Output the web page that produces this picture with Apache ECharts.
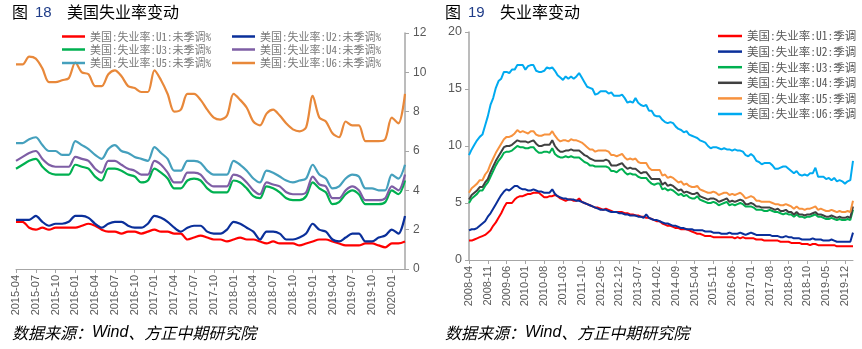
<!DOCTYPE html>
<html><head><meta charset="utf-8">
<script src="https://cdn.jsdelivr.net/npm/echarts@6/dist/echarts.min.js"></script>
<style>html,body{margin:0;padding:0;background:#fff}#c{width:862px;height:349px}</style>
</head><body><div id="c"></div>
<script>
// ---------- Left chart (Fig 18): NSA, 2015-04 .. 2020-03 ----------
const leftNames = ['美国:失业率:U1:未季调%','美国:失业率:U2:未季调%','美国:失业率:U3:未季调%','美国:失业率:U4:未季调%','美国:失业率:U5:未季调%','美国:失业率:U6:未季调%'];
const leftU1 = [2.4,2.4,2.1,2.0,2.1,2.0,2.1,2.1,2.1, 2.1,2.2,2.3,2.2,2.0,1.9,1.9,1.8,1.9,1.9,1.8,1.9, 2.0,1.9,1.9,1.8,1.8,1.5,1.6,1.7,1.6,1.5,1.5,1.4, 1.5,1.6,1.5,1.5,1.4,1.3,1.4,1.3,1.3,1.3,1.2,1.3, 1.4,1.5,1.5,1.4,1.3,1.2,1.2,1.2,1.3,1.3,1.2,1.1, 1.3,1.3,1.4];
const leftU2 = [2.5,2.5,2.5,2.7,2.4,2.2,2.3,2.3,2.4, 2.7,2.7,2.6,2.3,2.1,2.3,2.4,2.4,2.2,2.1,2.1,2.3, 2.7,2.6,2.4,2.1,1.9,2.1,2.2,2.2,1.9,1.8,1.8,2.0, 2.4,2.3,2.1,1.9,1.5,1.9,1.9,1.8,1.5,1.5,1.6,1.8, 2.3,2.0,1.9,1.5,1.4,1.6,1.8,1.8,1.4,1.4,1.6,1.7, 2.0,1.8,2.7];
const leftU3 = [5.1,5.3,5.5,5.6,5.2,4.9,4.8,4.8,4.8, 5.3,5.2,5.1,4.7,4.5,5.1,5.1,5.0,4.8,4.7,4.4,4.5, 5.1,4.9,4.6,4.1,4.1,4.5,4.6,4.5,4.1,3.9,3.9,3.9, 4.5,4.4,4.1,3.7,3.6,4.2,4.1,3.9,3.6,3.5,3.5,3.7, 4.4,4.1,3.9,3.3,3.4,3.8,4.0,3.8,3.3,3.3,3.3,3.4, 4.0,3.8,4.5];
const leftU4 = [5.5,5.7,5.9,6.0,5.6,5.3,5.2,5.2,5.2, 5.7,5.6,5.5,5.1,4.9,5.5,5.5,5.3,5.1,5.0,4.8,4.8, 5.5,5.3,4.9,4.4,4.4,4.9,4.9,4.8,4.4,4.2,4.2,4.2, 4.8,4.7,4.4,4.0,3.8,4.4,4.3,4.2,3.9,3.8,3.8,3.9, 4.7,4.3,4.2,3.6,3.6,4.0,4.2,4.0,3.5,3.5,3.5,3.6, 4.2,4.0,4.8];
const leftU5 = [6.4,6.4,6.6,6.7,6.3,6.0,6.0,5.8,5.8, 6.5,6.3,6.1,5.8,5.6,6.1,6.3,6.0,5.9,5.7,5.6,5.5, 6.2,5.9,5.6,5.0,5.0,5.5,5.5,5.4,5.0,4.8,4.8,4.8, 5.5,5.3,5.0,4.6,4.4,5.0,4.9,4.7,4.5,4.4,4.5,4.6, 5.3,4.8,4.6,4.1,4.2,4.6,4.8,4.7,4.1,4.1,4.0,4.0, 4.8,4.6,5.3];
const leftU6 = [10.4,10.4,10.8,10.7,10.2,9.5,9.5,9.6,9.7, 10.5,10.0,9.9,9.3,9.3,9.9,10.1,9.8,9.3,9.2,9.0,9.0, 10.1,9.6,8.9,8.0,8.1,8.9,8.9,8.6,8.1,7.7,7.6,7.8, 8.9,8.6,8.2,7.5,7.3,7.9,8.1,7.8,7.4,7.1,7.0,7.2, 8.8,7.7,7.5,6.9,6.7,7.5,7.3,7.3,6.5,6.5,6.5,6.6, 7.7,7.4,8.9];
const leftColors = ['#ff0000','#0a2f9a','#00b050','#7e5ea5','#45a0bd','#e8883a'];

// ---------- Right chart (Fig 19): SA, 2008-04 .. 2020-03 ----------
const rightNames = ['美国:失业率:U1:季调','美国:失业率:U2:季调','美国:失业率:U3:季调','美国:失业率:U4:季调','美国:失业率:U5:季调','美国:失业率:U6:季调'];
const rightU1 = [1.7,1.7,1.8,1.9,2.0,2.1,2.2,2.4,2.6,
 3.0,3.3,3.7,4.1,4.6,5.0,5.0,5.0,5.3,5.5,5.6,5.6,
 5.7,5.8,5.8,5.9,5.9,5.9,5.7,5.5,5.5,5.6,5.6,5.7,
 5.6,5.4,5.3,5.2,5.3,5.3,5.2,5.2,5.4,5.1,5.0,4.9,
 4.8,4.7,4.6,4.6,4.5,4.4,4.5,4.4,4.3,4.2,4.2,4.2,
 4.2,4.1,4.1,4.0,4.0,3.9,3.9,3.8,3.8,3.7,3.7,3.6,
 3.5,3.4,3.4,3.2,3.1,3.0,3.0,2.9,2.8,2.8,2.7,2.7,
 2.7,2.6,2.5,2.4,2.3,2.3,2.2,2.1,2.1,2.1,2.0,2.0,
 2.0,2.0,2.0,2.0,2.0,2.0,1.9,2.0,1.9,2.0,1.9,1.9,
 1.9,1.9,1.8,1.8,1.8,1.7,1.7,1.7,1.7,1.7,1.7,1.6,
 1.6,1.6,1.6,1.5,1.5,1.5,1.5,1.4,1.4,1.4,1.3,1.4,
 1.4,1.3,1.3,1.3,1.3,1.3,1.3,1.3,1.2,1.2,1.2,1.2,
 1.2,1.2,1.2];
const rightU2 = [2.6,2.7,2.7,2.8,3.0,3.2,3.4,3.8,4.1,
 4.5,4.9,5.3,5.7,6.0,6.2,6.1,6.3,6.5,6.5,6.3,6.2,
 6.2,6.1,6.1,6.2,6.1,6.0,6.0,5.9,5.9,5.9,6.2,5.8,
 5.6,5.5,5.4,5.4,5.3,5.3,5.3,5.2,5.2,5.1,5.0,4.9,
 4.8,4.7,4.6,4.5,4.4,4.4,4.4,4.3,4.2,4.2,4.2,4.1,
 4.1,4.0,4.0,3.9,3.9,3.9,3.8,3.8,3.7,4.0,3.7,3.6,
 3.5,3.5,3.4,3.3,3.2,3.2,3.1,3.0,3.0,2.9,2.8,2.8,
 2.7,2.7,2.7,2.6,2.6,2.6,2.6,2.5,2.5,2.5,2.4,2.4,
 2.4,2.3,2.3,2.3,2.4,2.3,2.3,2.3,2.4,2.3,2.2,2.3,
 2.4,2.3,2.2,2.2,2.2,2.2,2.2,2.2,2.1,2.1,2.1,2.0,
 2.0,2.1,2.0,2.0,1.9,1.9,1.9,1.8,1.8,1.8,1.8,1.9,
 1.8,1.8,1.8,1.7,1.7,1.7,1.8,1.7,1.6,1.6,1.6,1.6,
 1.6,1.6,2.4];
const rightU3 = [5.0,5.4,5.6,5.8,6.1,6.1,6.5,6.8,7.3,
 7.8,8.3,8.7,9.0,9.4,9.5,9.5,9.6,9.8,10.0,9.9,9.9,
 9.8,9.8,9.9,9.9,9.6,9.4,9.4,9.5,9.5,9.4,9.8,9.3,
 9.1,9.0,9.0,9.1,9.0,9.1,9.0,9.0,9.0,8.8,8.6,8.5,
 8.3,8.3,8.2,8.2,8.2,8.2,8.2,8.1,7.8,7.8,7.7,7.9,
 8.0,7.7,7.5,7.6,7.5,7.5,7.3,7.2,7.2,7.2,6.9,6.7,
 6.6,6.7,6.7,6.2,6.3,6.1,6.2,6.1,5.9,5.7,5.8,5.6,
 5.7,5.5,5.4,5.4,5.6,5.3,5.2,5.1,5.0,5.0,5.1,5.0,
 4.8,4.9,5.0,5.1,4.8,4.9,4.8,4.9,5.0,4.9,4.7,4.7,
 4.7,4.6,4.4,4.4,4.4,4.3,4.3,4.4,4.3,4.2,4.2,4.1,
 4.0,4.1,4.0,4.0,3.8,4.0,3.8,3.8,3.7,3.8,3.8,3.9,
 4.0,3.8,3.8,3.7,3.6,3.6,3.7,3.6,3.5,3.6,3.5,3.5,
 3.6,3.5,4.4];
const rightU4 = [5.3,5.7,5.9,6.1,6.4,6.4,6.8,7.1,7.7,
 8.2,8.7,9.1,9.5,9.9,10.0,10.0,10.1,10.3,10.5,10.4,10.4,
 10.4,10.3,10.4,10.5,10.2,10.0,10.0,10.1,10.1,10.1,10.5,10.0,
 9.7,9.5,9.5,9.6,9.6,9.7,9.6,9.6,9.6,9.4,9.2,9.1,
 8.9,8.8,8.7,8.7,8.7,8.7,8.8,8.7,8.3,8.3,8.3,8.4,
 8.5,8.2,8.0,8.1,8.0,8.0,7.8,7.6,7.7,7.7,7.4,7.1,
 7.1,7.1,7.1,6.6,6.8,6.5,6.6,6.5,6.3,6.1,6.2,5.9,
 6.0,5.9,5.8,5.8,5.9,5.6,5.5,5.4,5.3,5.4,5.4,5.3,
 5.1,5.2,5.3,5.4,5.1,5.2,5.1,5.2,5.3,5.2,4.9,4.9,
 5.0,4.9,4.7,4.7,4.6,4.6,4.6,4.6,4.5,4.4,4.5,4.3,
 4.3,4.4,4.2,4.2,4.0,4.2,4.0,4.0,3.9,4.0,4.0,4.1,
 4.2,4.0,4.0,3.9,3.8,3.8,3.9,3.8,3.7,3.8,3.7,3.7,
 3.8,3.7,4.7];
const rightU5 = [5.9,6.3,6.5,6.7,7.0,7.0,7.5,7.8,8.4,
 8.9,9.4,9.8,10.2,10.6,10.8,10.8,10.9,11.1,11.4,11.2,11.3,
 11.2,11.1,11.3,11.3,11.0,10.9,10.9,11.0,11.0,11.0,11.3,10.9,
 10.6,10.4,10.5,10.5,10.4,10.6,10.5,10.5,10.4,10.3,10.1,9.9,
 9.7,9.7,9.5,9.6,9.6,9.6,9.6,9.5,9.2,9.2,9.1,9.2,
 9.3,9.0,8.8,8.9,8.8,8.9,8.6,8.5,8.5,8.5,8.1,7.9,
 7.9,7.9,7.9,7.4,7.5,7.2,7.3,7.2,7.0,6.8,6.9,6.6,
 6.7,6.5,6.4,6.4,6.5,6.2,6.1,6.0,5.9,5.9,6.0,5.9,
 5.7,5.8,5.9,5.9,5.7,5.8,5.7,5.8,5.9,5.7,5.4,5.5,
 5.6,5.5,5.2,5.2,5.1,5.1,5.1,5.1,5.0,4.9,4.9,4.8,
 4.8,4.9,4.8,4.7,4.5,4.7,4.5,4.5,4.4,4.5,4.5,4.6,
 4.7,4.4,4.5,4.4,4.3,4.3,4.4,4.3,4.2,4.3,4.2,4.2,
 4.3,4.2,5.2];
const rightU6 = [9.2,9.7,10.1,10.5,10.8,11.0,11.8,12.6,13.6,
 14.2,15.1,15.7,15.9,16.5,16.5,16.4,16.7,16.7,17.1,17.1,17.1,
 16.7,17.0,17.1,17.1,16.6,16.5,16.5,16.6,16.9,16.8,16.9,16.6,
 16.2,16.0,15.8,16.1,15.9,16.1,15.9,16.1,16.4,16.0,15.6,15.2,
 15.1,15.0,14.5,14.6,14.8,14.8,14.8,14.6,14.7,14.4,14.4,14.4,
 14.5,14.2,13.8,13.9,13.8,14.2,13.8,13.6,13.5,13.6,13.1,13.1,
 12.7,12.6,12.6,12.3,12.1,12.0,12.1,12.0,11.7,11.5,11.4,11.2,
 11.3,11.0,10.9,10.8,10.7,10.5,10.4,10.3,10.0,9.8,9.9,9.9,
 9.8,9.7,9.8,9.7,9.7,9.6,9.7,9.6,9.6,9.5,9.2,9.1,
 9.3,9.1,8.7,8.6,8.4,8.5,8.5,8.5,8.3,8.0,8.0,8.1,
 8.2,8.2,8.0,7.8,7.6,7.8,7.5,7.4,7.5,7.4,7.6,7.6,
 8.1,7.3,7.3,7.3,7.1,7.2,7.0,7.2,6.9,7.0,6.9,6.7,
 6.9,7.0,8.7];
const rightColors = ['#ff0000','#0a2f9a','#00b050','#404040','#f7923e','#00aaf0'];

function months(y, m, n) {
  const out = [];
  for (let i = 0; i < n; i++) {
    out.push(y + '-' + (m < 10 ? '0' + m : m));
    m++; if (m > 12) { m = 1; y++; }
  }
  return out;
}
const leftCats = months(2015, 4, leftU1.length);
const rightCats = months(2008, 4, rightU1.length);

const CJK = '"Noto Sans CJK SC", sans-serif';
const LEG = '"Noto Sans Mono CJK SC", "Noto Sans CJK SC", sans-serif';
const NUM = '"Liberation Sans", Arial, sans-serif';

const leftData = [leftU1, leftU2, leftU3, leftU4, leftU5, leftU6];
const rightData = [rightU1, rightU2, rightU3, rightU4, rightU5, rightU6];

const series = [];
leftData.forEach((d, i) => series.push({
  name: leftNames[i], type: 'line', xAxisIndex: 0, yAxisIndex: 0, data: d,
  smooth: 0.3, symbol: 'none', lineStyle: { width: 2.2, color: leftColors[i] }, itemStyle: { color: leftColors[i] }
}));
rightData.forEach((d, i) => series.push({
  name: rightNames[i], type: 'line', xAxisIndex: 1, yAxisIndex: 1, data: d,
  symbol: 'none', lineStyle: { width: 2, color: rightColors[i] }, itemStyle: { color: rightColors[i] }
}));

const axisGray = '#a6a6a6';
const labelGray = '#595959';

function leftLegend(names, top) {
  return {
    data: names, left: 57, top: top, orient: 'horizontal', itemGap: 21,
    icon: 'rect', itemWidth: 23, itemHeight: 2.5, selectedMode: false,
    textStyle: { fontFamily: LEG, fontSize: 11, color: '#7a7a7a' }
  };
}

const chart = echarts.init(document.getElementById('c'), null, { renderer: 'canvas' });
chart.setOption({
  animation: false,
  backgroundColor: '#fff',
  grid: [
    { left: 16, right: 457, top: 33, bottom: 80, containLabel: false },
    { left: 469, right: 9, top: 32, bottom: 89, containLabel: false }
  ],
  xAxis: [
    { type: 'category', gridIndex: 0, data: leftCats, boundaryGap: false,
      axisLine: { lineStyle: { color: axisGray, width: 1 } },
      axisTick: { interval: 2, length: 4, lineStyle: { color: axisGray } },
      axisLabel: { interval: 2, rotate: 90, fontSize: 11, fontFamily: NUM, color: labelGray, margin: 6 } },
    { type: 'category', gridIndex: 1, data: rightCats, boundaryGap: false,
      axisLine: { lineStyle: { color: axisGray, width: 1 } },
      axisTick: { interval: 6, length: 4, lineStyle: { color: axisGray } },
      axisLabel: { interval: 6, rotate: 90, fontSize: 11, fontFamily: NUM, color: labelGray, margin: 6 } }
  ],
  yAxis: [
    { type: 'value', gridIndex: 0, position: 'right', min: 0, max: 12, interval: 2,
      splitLine: { show: false },
      axisLine: { show: true, lineStyle: { color: axisGray, width: 1.5 } },
      axisTick: { show: true, length: 4, lineStyle: { color: axisGray } },
      axisLabel: { fontSize: 12, fontFamily: NUM, color: labelGray, margin: 8 } },
    { type: 'value', gridIndex: 1, position: 'left', min: 0, max: 20, interval: 5,
      splitLine: { show: false },
      axisLine: { show: true, lineStyle: { color: axisGray, width: 1.5 } },
      axisTick: { show: true, length: 4, lineStyle: { color: axisGray } },
      axisLabel: { fontSize: 12.5, fontFamily: NUM, color: labelGray, margin: 7 } }
  ],
  legend: [
    leftLegend([leftNames[0], leftNames[1]], 26),
    leftLegend([leftNames[2], leftNames[3]], 39),
    leftLegend([leftNames[4], leftNames[5]], 52.5),
    { data: rightNames, left: 713, top: 24, orient: 'vertical', itemGap: 1.6,
      icon: 'rect', itemWidth: 24, itemHeight: 2.5, selectedMode: false,
      textStyle: { fontFamily: LEG, fontSize: 11.5, color: '#595959', lineHeight: 14 } }
  ],
  graphic: [
    { type: 'text', left: 12, top: 4, style: { text: '图', font: '16px ' + CJK, fill: '#000' } },
    { type: 'text', left: 35, top: 5, style: { text: '18', font: '15px ' + NUM, fill: '#1f3c88' } },
    { type: 'text', left: 67, top: 4, style: { text: '美国失业率变动', font: '16px ' + CJK, fill: '#000' } },
    { type: 'text', left: 445, top: 4, style: { text: '图', font: '16px ' + CJK, fill: '#000' } },
    { type: 'text', left: 468, top: 5, style: { text: '19', font: '15px ' + NUM, fill: '#1f3c88' } },
    { type: 'text', left: 500, top: 4, style: { text: '失业率变动', font: '16px ' + CJK, fill: '#000' } },
    { type: 'text', left: 12, top: 325, style: { text: '{a|数据来源：}{b|Wind}{a|、方正中期研究院}',
        rich: { a: { fontStyle: 'italic', fontSize: 16, fontFamily: CJK, color: '#000' },
                b: { fontStyle: 'italic', fontSize: 16, fontFamily: NUM, color: '#1f3c99' } } } },
    { type: 'text', left: 445, top: 325, style: { text: '{a|数据来源：}{b|Wind}{a|、方正中期研究院}',
        rich: { a: { fontStyle: 'italic', fontSize: 16, fontFamily: CJK, color: '#000' },
                b: { fontStyle: 'italic', fontSize: 16, fontFamily: NUM, color: '#1f3c99' } } } }
  ],
  series: series
});
</script></body></html>
